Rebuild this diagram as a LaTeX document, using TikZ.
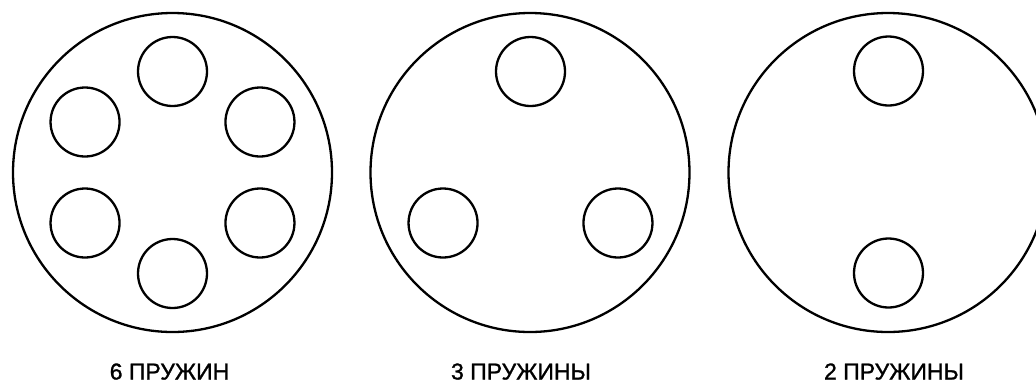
\documentclass[tikz,border=0pt]{standalone}
\usepackage{fontspec}
\setmainfont{Liberation Sans}
\newfontfamily\capfont[FakeBold=1.2]{Liberation Sans}
\usetikzlibrary{calc}
\begin{document}
\begin{tikzpicture}[x=1pt,y=-1pt,
  plate/.style={draw=black,line width=2.3pt},
  spring/.style={draw=black,line width=2.3pt},
  caption/.style={font=\capfont\fontsize{23}{25}\selectfont,anchor=base,inner sep=0pt}]
\clip (0,0) rectangle (1036,384);
\useasboundingbox (0,0) rectangle (1036,384);
% plate 1: six springs
\draw[plate] (172.5,172.5) circle[radius=159.5];
\foreach \a in {-90,-30,30,90,150,-150}
  \draw[spring] ($(172.5,172.5)+(\a:101)$) circle[radius=34.5];
% plate 2: three springs (one on top, two below)
\draw[plate] (530,172.5) circle[radius=159.5];
\foreach \a in {-90,30,150}
  \draw[spring] ($(530.5,172.5)+(\a:101)$) circle[radius=34.5];
% plate 3: two springs
\draw[plate] (888,172.5) circle[radius=159.5];
\foreach \a in {-90,90}
  \draw[spring] ($(888.5,172)+(\a:101)$) circle[radius=34.5];
\node[caption] (c1) at (169.5,379.5) {6 ПРУЖИН};
\node[caption] (c2) at (521,379.5) {3 ПРУЖИНЫ};
\node[caption] (c3) at (894,379.5) {2 ПРУЖИНЫ};
\end{tikzpicture}
\end{document}
